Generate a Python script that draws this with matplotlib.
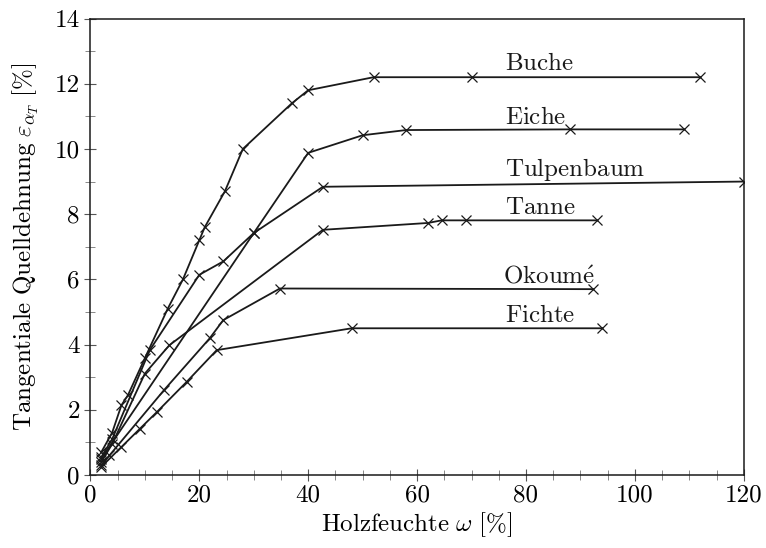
import matplotlib
matplotlib.use("Agg")
import matplotlib.pyplot as plt
from matplotlib.ticker import MultipleLocator

plt.rcParams['font.family'] = 'cmr10'
plt.rcParams['mathtext.fontset'] = 'cm'
plt.rcParams['axes.unicode_minus'] = False

# --- data ---
buche_x = [2, 4, 5.7, 6.9, 10, 14.2, 17, 20, 21, 24.7, 28, 37, 40, 52, 70, 112]
buche_y = [0.7, 1.3, 2.14, 2.45, 3.58, 5.1, 6.0, 7.2, 7.6, 8.7, 10.0, 11.4, 11.8, 12.2, 12.2, 12.2]

eiche_x = [2, 30, 40, 50, 58, 88, 109]
eiche_y = [0.5, 7.42, 9.88, 10.42, 10.58, 10.6, 10.6]

tulpen_x = [2, 4, 10.9, 20, 24.4, 30, 42.7, 120]
tulpen_y = [0.55, 1.1, 3.83, 6.14, 6.55, 7.42, 8.84, 9.0]

tanne_x = [2, 4, 10, 14.5, 42.7, 62, 64.5, 69, 93]
tanne_y = [0.4, 0.95, 3.11, 3.98, 7.52, 7.73, 7.81, 7.81, 7.81]

okoume_x = [2, 3.5, 13.5, 21.9, 24.4, 34.8, 92.3]
okoume_y = [0.3, 0.6, 2.6, 4.19, 4.75, 5.72, 5.7]

fichte_x = [2, 5.7, 9.1, 12.2, 17.7, 23.2, 48, 94]
fichte_y = [0.25, 0.86, 1.42, 1.93, 2.86, 3.83, 4.5, 4.5]

series = [
    (buche_x, buche_y),
    (eiche_x, eiche_y),
    (tulpen_x, tulpen_y),
    (tanne_x, tanne_y),
    (okoume_x, okoume_y),
    (fichte_x, fichte_y),
]

label_texts = [r'$\mathrm{Buche}$', r'$\mathrm{Eiche}$', r'$\mathrm{Tulpenbaum}$',
               r'$\mathrm{Tanne}$', r'$\mathrm{Okoum\acute{e}}$', r'$\mathrm{Fichte}$']
label_x = [76.1, 76.1, 76.1, 76.1, 75.7, 76.1]
label_y = [12.42, 10.78, 9.16, 8.0, 5.88, 4.70]

fig = plt.figure(figsize=(7.66, 5.48), dpi=100)
ax = fig.add_axes([0.118, 0.1332, 0.853, 0.8330])

for xs, ys in series:
    ax.plot(xs, ys, color='#1a1a1a', lw=1.3, marker='x', ms=7, mew=0.9,
            mec='#1a1a1a')

for t, lx, ly in zip(label_texts, label_x, label_y):
    ax.text(lx, ly, t, fontsize=18, ha='left', va='baseline', color='#1a1a1a')

ax.set_xlim(0, 120)
ax.set_ylim(0, 14)
ax.xaxis.set_major_locator(MultipleLocator(20))
ax.xaxis.set_minor_locator(MultipleLocator(5))
ax.yaxis.set_major_locator(MultipleLocator(2))
ax.yaxis.set_minor_locator(MultipleLocator(1))
ax.tick_params(which='major', direction='inout', length=9, width=0.8,
               color='#555555', labelsize=18, pad=2)
ax.tick_params(which='minor', direction='inout', length=7, width=0.7,
               color='#888888')
ax.tick_params(axis='y', which='major', pad=3)
for s in ax.spines.values():
    s.set_linewidth(1.1)
    s.set_color('#1a1a1a')

ax.set_xlabel(r'$\mathrm{Holzfeuchte}\ \omega\ [\%]$', fontsize=18, labelpad=3)
ax.set_ylabel(r'$\mathrm{Tangentiale\ Quelldehnung}\ \varepsilon_{\alpha_T}\ [\%]$',
              fontsize=18, labelpad=10)

fig.savefig('out.png', dpi=100)
